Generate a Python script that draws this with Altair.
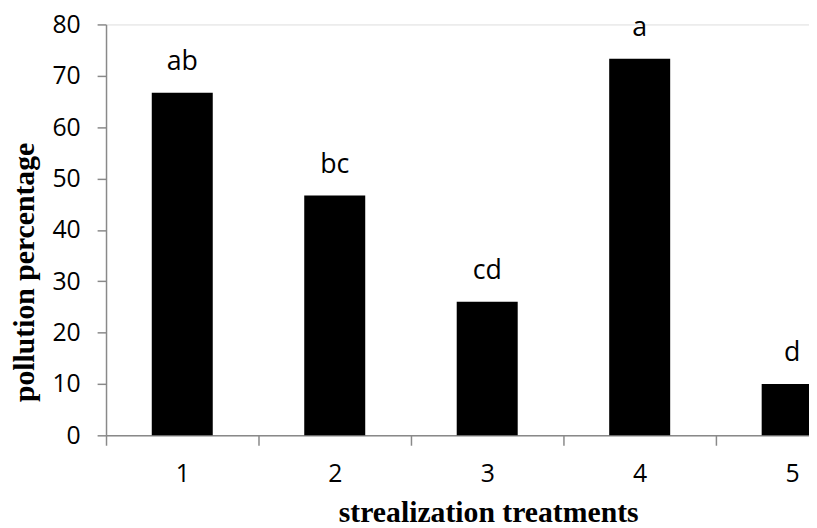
import altair as alt
import pandas as pd

treatments = ["1", "2", "3", "4", "5"]
pollution = [66.7, 46.7, 26.0, 73.3, 10.0]
letters = ["ab", "bc", "cd", "a", "d"]

df = pd.DataFrame({"t": treatments, "p": pollution, "lab": letters})

AX = "#898989"
x_enc = alt.X(
    "t:N",
    sort=treatments,
    scale=alt.Scale(type="band", paddingInner=0, paddingOuter=0, range=[0, 770]),
    axis=alt.Axis(
        title="strealization treatments",
        titleFont="Liberation Serif",
        titleFontWeight="bold",
        titleFontSize=30,
        titleColor="black",
        titleBaseline="alphabetic",
        titleX=386,
        titleY=87,
        labelAngle=0,
        labelFont="Open Sans",
        labelFontSize=25,
        labelColor="black",
        labelPadding=17,
        tickBand="extent",
        tickSize=10,
        tickColor=AX,
        tickWidth=1.5,
        domainColor=AX,
        domainWidth=1.5,
        grid=False,
    ),
)
y_enc = alt.Y(
    "p:Q",
    scale=alt.Scale(domain=[0, 80], nice=False),
    axis=alt.Axis(
        title="pollution percentage",
        titleFont="Liberation Serif",
        titleFontWeight="bold",
        titleFontSize=30,
        titleColor="black",
        titleBaseline="alphabetic",
        titleAngle=-90,
        titleX=-73,
        titleY=250,
        values=[0, 10, 20, 30, 40, 50, 60, 70, 80],
        labelFont="Open Sans",
        labelFontSize=25,
        labelColor="black",
        labelPadding=17,
        tickSize=9,
        tickColor=AX,
        tickWidth=1.5,
        domainColor=AX,
        domainWidth=1.5,
        grid=False,
    ),
)

bars = alt.Chart(df).mark_bar(color="black", width=alt.RelativeBandSize(0.4)).encode(x=x_enc, y=y_enc)
texts = alt.Chart(df).mark_text(
    font="Open Sans", fontSize=27, color="black", baseline="alphabetic", dy=-23
).encode(x=alt.X("t:N", sort=treatments), y="p:Q", text="lab:N")

chart = (
    alt.layer(bars, texts)
    .properties(
        width=710,
        height=415,
        autosize=alt.AutoSizeParams(type="none"),
        padding={"left": 99, "top": 14, "right": 0, "bottom": 91},
    )
    .configure_view(stroke=None)
    .configure(background="white")
)

chart.save("out.html", embed_options={"renderer": "svg", "actions": False})
